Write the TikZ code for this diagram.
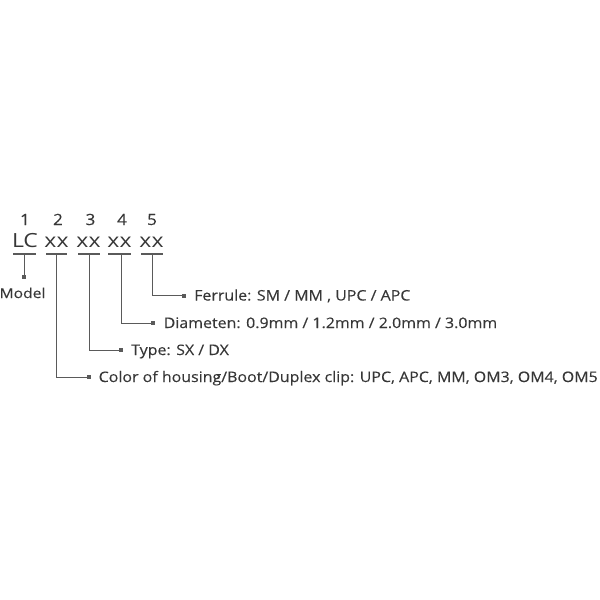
\documentclass[tikz,border=0pt]{standalone}
\usepackage{fontspec}
\setmainfont{Open Sans}
\newfontfamily\lblfont[FakeStretch=1.1,FakeBold=0.2]{Open Sans}
\newfontfamily\bigfont[FakeStretch=1.18]{Open Sans}
\newfontfamily\mdlfont[FakeStretch=1.15,FakeBold=0.2]{Open Sans}
\begin{document}
\begin{tikzpicture}[x=1pt,y=-1pt,
  txt/.style={text=txtcol,inner sep=0pt,anchor=base},
  big/.style={txt,font=\bigfont\fontsize{19.5}{21}\selectfont},
  digit/.style={txt,font=\lblfont\fontsize{15.5}{17}\selectfont},
  lbl/.style={txt,anchor=base west,font=\lblfont\fontsize{14.5}{16}\selectfont},
  mdl/.style={txt,font=\mdlfont\fontsize{13.6}{15}\selectfont},
  sq/.style={fill=linecol,draw=none,minimum size=4pt,inner sep=0pt,rectangle},
  ln/.style={draw=linecol,line width=0.9pt},
  ul/.style={draw=linecol,line width=1.1pt}]
\definecolor{txtcol}{RGB}{55,55,55}
\definecolor{linecol}{RGB}{90,90,90}
\useasboundingbox (0,0) rectangle (600,600);
% digits
\node[digit] (d1) at (25,225) {1};
\node[digit] (d2) at (58,225) {2};
\node[digit] (d3) at (90.5,225) {3};
\node[digit] (d4) at (122,225) {4};
\node[digit] (d5) at (152,225) {5};
% code
\node[big] (lc) at (25,247) {LC};
\node[big] (x2) at (56.5,247) {xx};
\node[big] (x3) at (88.5,247) {xx};
\node[big] (x4) at (119.5,247) {xx};
\node[big] (x5) at (151.5,247) {xx};
% underlines
\coordinate (u1a) at (13,254); \coordinate (u1b) at (36,254);
\coordinate (u2a) at (46,254); \coordinate (u2b) at (67,254);
\coordinate (u3a) at (78,254); \coordinate (u3b) at (99.5,254);
\coordinate (u4a) at (108,254); \coordinate (u4b) at (130.5,254);
\coordinate (u5a) at (141,254); \coordinate (u5b) at (163,254);
\draw[ul] (u1a) -- (u1b);
\draw[ul] (u2a) -- (u2b);
\draw[ul] (u3a) -- (u3b);
\draw[ul] (u4a) -- (u4b);
\draw[ul] (u5a) -- (u5b);
\coordinate (c1) at (24,254);
\coordinate (c2) at (56,254);
\coordinate (c3) at (89,254);
\coordinate (c4) at (121,254);
\coordinate (c5) at (152,254);
% squares
\node[sq] (s1) at (24,277) {};
\node[sq] (s5) at (184,295.5) {};
\node[sq] (s4) at (153,323) {};
\node[sq] (s3) at (121,350) {};
\node[sq] (s2) at (89,377) {};
% connectors
\draw[ln] (c1) -- (s1);
\draw[ln] (c5) |- (s5);
\draw[ln] (c4) |- (s4);
\draw[ln] (c3) |- (s3);
\draw[ln] (c2) |- (s2);
% labels
\node[mdl] (model) at (22.5,298) {Model};
\node[lbl] (l5) at (194,300.5) {Ferrule: SM / MM , UPC / APC};
\node[lbl] (l4) at (163.5,328) {Diameten: 0.9mm / 1.2mm / 2.0mm / 3.0mm};
\node[lbl] (l3) at (131,355) {Type: SX / DX};
\node[lbl] (l2) at (98.5,382) {Color of housing/Boot/Duplex clip: UPC, APC, MM, OM3, OM4, OM5};
\end{tikzpicture}
\end{document}
